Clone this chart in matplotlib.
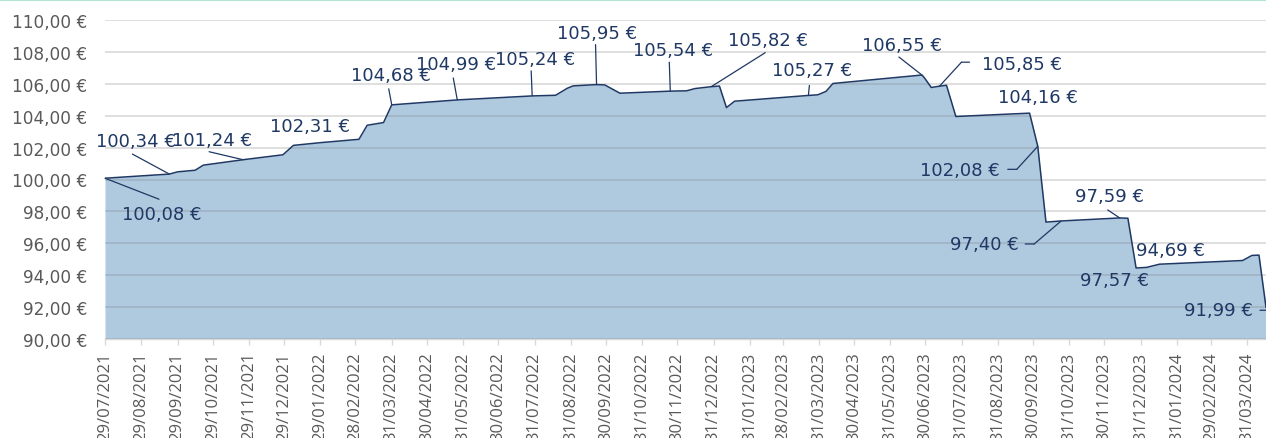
import numpy as np
import pandas as pd
import matplotlib
matplotlib.use('Agg')
import matplotlib.pyplot as plt
import matplotlib.dates as mdates
from matplotlib.lines import Line2D
from matplotlib.transforms import offset_copy

# Series data (valuation date, value in EUR)
dates = pd.to_datetime([
    '2021-07-29', '2021-09-22', '2021-09-29', '2021-10-14', '2021-10-21',
    '2021-11-24', '2021-12-28', '2022-01-06', '2022-01-29', '2022-03-03',
    '2022-03-10', '2022-03-24', '2022-03-31', '2022-05-26', '2022-07-29',
    '2022-08-18', '2022-08-28', '2022-09-02', '2022-09-22', '2022-09-29',
    '2022-10-12', '2022-11-24', '2022-12-08', '2022-12-15', '2022-12-29',
    '2023-01-05', '2023-01-11', '2023-01-18', '2023-03-22', '2023-03-30',
    '2023-04-06', '2023-04-12', '2023-06-27', '2023-06-29', '2023-07-05',
    '2023-07-12', '2023-07-18', '2023-07-26', '2023-09-27', '2023-10-04',
    '2023-10-11', '2023-10-24', '2023-12-13', '2023-12-20', '2023-12-27',
    '2024-01-05', '2024-01-16', '2024-03-27', '2024-04-04', '2024-04-10',
    '2024-04-16',
])
values = [
    100.08, 100.34, 100.48, 100.58, 100.90,
    101.24, 101.55, 102.14, 102.31, 102.52,
    103.40, 103.57, 104.68, 104.99, 105.24,
    105.28, 105.72, 105.87, 105.95, 105.93,
    105.41, 105.54, 105.56, 105.70, 105.82,
    105.86, 104.51, 104.91, 105.27, 105.31,
    105.52, 106.02, 106.55, 106.39, 105.77,
    105.85, 105.91, 103.95, 104.16, 102.08,
    97.33, 97.40, 97.59, 97.57, 94.45,
    94.49, 94.69, 94.92, 95.24, 95.26,
    91.99,
]

# Axis ticks
tick_dates = pd.to_datetime([
    '2021-07-29', '2021-08-29', '2021-09-29', '2021-10-29', '2021-11-29',
    '2021-12-29', '2022-01-29', '2022-02-28', '2022-03-31', '2022-04-30',
    '2022-05-31', '2022-06-30', '2022-07-31', '2022-08-31', '2022-09-30',
    '2022-10-31', '2022-11-30', '2022-12-31', '2023-01-31', '2023-02-28',
    '2023-03-31', '2023-04-30', '2023-05-31', '2023-06-30', '2023-07-31',
    '2023-08-31', '2023-09-30', '2023-10-31', '2023-11-30', '2023-12-31',
    '2024-01-31', '2024-02-29', '2024-03-31',
])
y_ticks = np.arange(90, 111, 2)

# Which points carry a data label
label_idx = [0, 1, 5, 8, 12, 13, 14, 18, 21, 24, 28, 32, 35, 38, 39, 41, 42, 43, 46, 50]

# label centre offsets (pixels, y up) and leader polylines, per labelled point
label_off = {
    0: (57, -36), 1: (-33, 33), 5: (-31, 20), 8: (-10, 17), 12: (-1, 30),
    13: (-1, 36), 14: (3, 37), 18: (1, 52), 21: (3, 41), 24: (57, 47),
    28: (4, 25), 32: (-20, 30), 35: (83, 22), 38: (8, 16), 39: (-78, -24),
    41: (-77, -23), 42: (-10, 22), 43: (-13, -62), 46: (11, 14), 50: (-48, -3),
}
leaders = {
    0: [(54, -21), (0, 0)], 1: [(-37, 20), (0, 0)], 5: [(-34, 8), (0, 0)],
    12: [(-3, 16), (0, 0)], 13: [(-4, 22), (0, 0)], 14: [(-1, 25), (0, 0)],
    18: [(-1, 40), (0, 0)], 21: [(-1, 29), (0, 0)], 24: [(54, 34), (0, 0)],
    28: [(1, 10), (0, 0)], 32: [(-23, 18), (0, 0)],
    35: [(30, 24), (22, 24), (0, 0)], 39: [(-30, -23), (-21, -23), (0, 0)],
    41: [(-36, -23), (-27, -23), (0, 0)], 42: [(-12, 8), (0, 0)],
    50: [(-6, -3), (0, -3)],
}

NAVY = '#1f3864'
FILL = '#afc9df'
GREY = '#595959'

xnum = mdates.date2num(dates)

fig = plt.figure(figsize=(12.66, 4.39), dpi=100)
ax = fig.add_axes([105 / 1266, 1 - 340 / 439, (1266 - 105) / 1266, (340 - 21) / 439])

ax.fill_between(xnum, values, 90, color=FILL, lw=0, zorder=1)
ax.plot(xnum, values, color=NAVY, lw=1.1, zorder=3)

ax.set_xlim(xnum[0], xnum[-1])
ax.set_ylim(90, 110)

ax.set_axisbelow(False)
ax.yaxis.grid(True, color='#808080', alpha=0.3, lw=1.2, zorder=2)

ax.set_yticks(y_ticks)
ax.set_yticklabels([f'{t:.2f}'.replace('.', ',') + ' €' for t in y_ticks],
                   fontsize=12.2, color=GREY, family='DejaVu Sans')
ax.tick_params(axis='y', length=0, pad=13)

ax.set_xticks(mdates.date2num(tick_dates))
ax.set_xticklabels([d.strftime('%d/%m/%Y') for d in tick_dates], rotation=90,
                   fontsize=12, color=GREY, family='Open Sans')
ax.tick_params(axis='x', length=4, width=1, color='#d9d9d9', pad=5)

for s in ['top', 'left', 'right']:
    ax.spines[s].set_visible(False)
ax.spines['bottom'].set_color('#d9d9d9')
ax.spines['bottom'].set_linewidth(1)

# data labels with leader lines
for i in label_idx:
    x, v = xnum[i], values[i]
    dx, dy = label_off[i]
    txt = f'{v:.2f}'.replace('.', ',') + ' €'
    ax.annotate(txt, xy=(x, v), xytext=(dx, dy), textcoords='offset pixels',
                ha='center', va='center', fontsize=13, color=NAVY,
                family='DejaVu Sans', zorder=5, annotation_clip=False)
    pts = leaders.get(i)
    if pts:
        for (x0, y0), (x1, y1) in zip(pts[:-1], pts[1:]):
            ax.annotate('', xy=(x, v),
                        xycoords=offset_copy(ax.transData, fig=fig, x=x1, y=y1, units='dots'),
                        xytext=(x, v),
                        textcoords=offset_copy(ax.transData, fig=fig, x=x0, y=y0, units='dots'),
                        arrowprops=dict(arrowstyle='-', color=NAVY, lw=0.9,
                                        shrinkA=0, shrinkB=0),
                        annotation_clip=False, zorder=4)

# thin accent line along the top edge
fig.add_artist(Line2D([0, 1], [1 - 1 / 439, 1 - 1 / 439], transform=fig.transFigure,
                      color='#b4e4d4', lw=1.5))

fig.savefig('out.png', dpi=100)
